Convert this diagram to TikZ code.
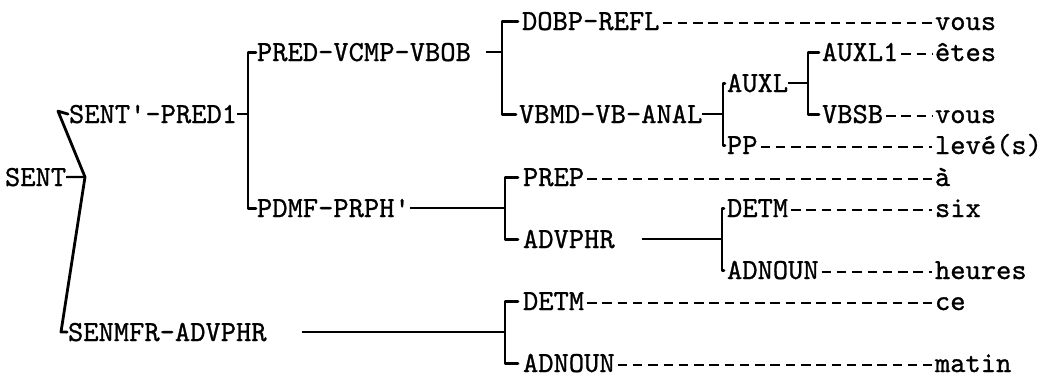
\documentclass[tikz,border=0pt]{standalone}
\usepackage{fontspec}
\newfontfamily\twfont{lmmono10-regular.otf}[FakeBold=0.9]
\usetikzlibrary{calc}
\tikzset{
  lbl/.style={inner sep=0pt, outer sep=0pt, anchor=base west, text height=17.8pt, text depth=0pt,
    font=\twfont\fontsize{29.1}{35}\selectfont},
  brk/.style={line width=2.8pt, line cap=round, line join=round},
  conn/.style={line width=2.2pt},
  leader/.style={line width=2.2pt, dash pattern=on 9.5pt off 5.78pt},
}
\begin{document}
\begin{tikzpicture}[x=1pt,y=-1pt]
\useasboundingbox (0,0) rectangle (1043,378);
% labels and words
\node[lbl] (dobp) at (522,30) {DOBP-REFL};
\node[lbl] (vousA) at (935,30) {vous};
\node[lbl] (pred) at (257,61) {PRED-VCMP-VBOB};
\node[lbl] (auxlone) at (822,61) {AUXL1};
\node[lbl] (etes) at (935,61) {êtes};
\node[lbl] (auxl) at (727,92) {AUXL};
\node[lbl] (sentp) at (69,123) {SENT\textquotesingle-PRED1};
\node[lbl] (vbmd) at (519,123) {VBMD-VB-ANAL};
\node[lbl] (vbsb) at (822,123) {VBSB};
\node[lbl] (vousB) at (935,123) {vous};
\node[lbl] (pp) at (727,154) {PP};
\node[lbl] (leve) at (935,154) {levé(s)};
\node[lbl] (sent) at (5,186) {SENT};
\node[lbl] (prep) at (523,186) {PREP};
\node[lbl] (a) at (935,186) {à};
\node[lbl] (pdmf) at (257,217) {PDMF-PRPH\textquotesingle};
\node[lbl] (detmA) at (727,217) {DETM};
\node[lbl] (six) at (935,217) {six};
\node[lbl] (advA) at (523,248) {ADVPHR};
\node[lbl] (adnA) at (727,279) {ADNOUN};
\node[lbl] (heures) at (935,279) {heures};
\node[lbl] (detmB) at (523,310) {DETM};
\node[lbl] (ce) at (935,310) {ce};
\node[lbl] (senm) at (68,341) {SENMFR-ADVPHR};
\node[lbl] (adnB) at (523,372) {ADNOUN};
\node[lbl] (matin) at (935,372) {matin};
% bracket x positions
\coordinate (xb1) at (248,0);
\coordinate (xb2) at (502,0);
\coordinate (xb3) at (723,0);
\coordinate (xb4) at (808,0);
\coordinate (xb5) at (505,0);
\coordinate (xb6) at (722,0);
\coordinate (apex) at (85,177);
\coordinate (sfoot) at (61,332);
% SENT
\draw[conn] (sent.east) -- (apex);
\draw[brk] ([xshift=-1pt]sentp.west) -- ++(-10,-3) -- (apex) -- (sfoot) -- ([xshift=-1pt]senm.west);
% SENT'-PRED1
\draw[conn] (sentp.east) -- (sentp.east -| xb1);
\draw[brk] ([xshift=-1pt]pred.west) -| (xb1 |- pdmf.west) -- ([xshift=-1pt]pdmf.west);
% PRED-VCMP-VBOB
\draw[conn] ([xshift=15pt]pred.east) -- (pred.east -| xb2);
\draw[brk] ([xshift=-4pt]dobp.west) -| (xb2 |- vbmd.west) -- ([xshift=-3pt]vbmd.west);
% VBMD-VB-ANAL
\draw[conn] (vbmd.east) -- (vbmd.east -| xb3);
\draw[brk] ([xshift=-2pt]auxl.west) -| (xb3 |- pp.west) -- ([xshift=-2pt]pp.west);
% AUXL
\draw[conn] (auxl.east) -- (auxl.east -| xb4);
\draw[brk] ([xshift=-3pt]auxlone.west) -| (xb4 |- vbsb.west) -- ([xshift=-3pt]vbsb.west);
% PDMF-PRPH'
\draw[conn] (pdmf.east) -- (pdmf.east -| xb5);
\draw[brk] ([xshift=-5pt]prep.west) -| (xb5 |- advA.west) -- ([xshift=-5pt]advA.west);
% ADVPHR
\draw[conn] ([xshift=27pt]advA.east) -- (advA.east -| xb6);
\draw[brk] ([xshift=-3pt]detmA.west) -| (xb6 |- adnA.west) -- ([xshift=-3pt]adnA.west);
% SENMFR-ADVPHR
\draw[conn] ([xshift=35pt]senm.east) -- (senm.east -| xb5);
\draw[brk] ([xshift=-5pt]detmB.west) -| (xb5 |- adnB.west) -- ([xshift=-5pt]adnB.west);
% leaders
\foreach \l/\w in {dobp/vousA, auxlone/etes, vbsb/vousB, pp/leve, prep/a, detmA/six, adnA/heures, detmB/ce, adnB/matin}
  \draw[leader] ([xshift=3pt,yshift=7pt]\l.base east) -- ([xshift=-3pt,yshift=7pt]\w.base west);
\end{tikzpicture}
\end{document}
